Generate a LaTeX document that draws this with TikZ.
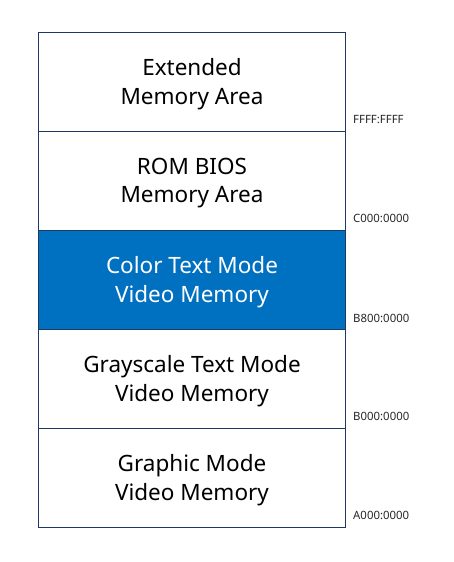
\documentclass[tikz,border=0pt]{standalone}
\usepackage{fontspec}
\setmainfont{Noto Sans}
\definecolor{frame}{HTML}{1F3864}
\definecolor{hilite}{HTML}{0070C0}
\begin{document}
\begin{tikzpicture}[x=1pt,y=-1pt,
  cell/.style={draw=frame,line width=1pt,minimum width=307pt,minimum height=99pt,inner sep=0pt,anchor=north west,align=center,font=\fontsize{22.5}{28.5}\selectfont,text depth=1pt},
  addr/.style={anchor=west,inner sep=0pt,font=\fontsize{11.4}{13}\selectfont,text=black!85}]
\useasboundingbox (0,0) rectangle (454,562);
\node[cell] (ext) at (38,32) {Extended\\Memory Area};
\node[cell] (rom) at (38,131) {ROM BIOS\\Memory Area};
\node[cell,fill=hilite,text=white] (col) at (38,230) {Color Text Mode\\Video Memory};
\node[cell] (gray) at (38,329) {Grayscale Text Mode\\Video Memory};
\node[cell] (gfx) at (38,428) {Graphic Mode\\Video Memory};
\node[addr] (a1) at (353,120) {FFFF:FFFF};
\node[addr] (a2) at (353,218) {C000:0000};
\node[addr] (a3) at (353,318) {B800:0000};
\node[addr] (a4) at (353,416) {B000:0000};
\node[addr] (a5) at (353,515) {A000:0000};
\end{tikzpicture}
\end{document}
